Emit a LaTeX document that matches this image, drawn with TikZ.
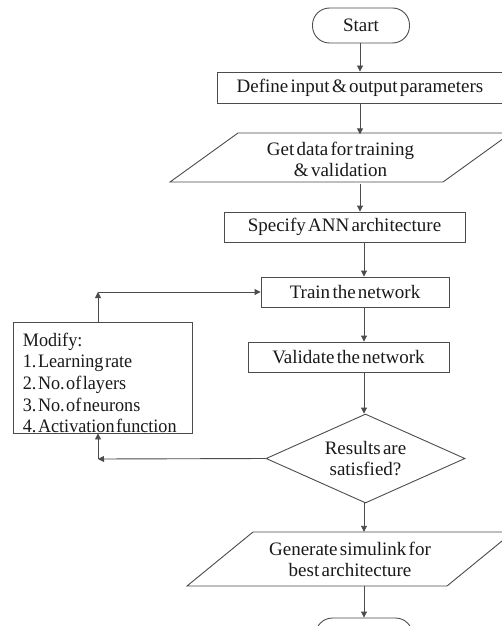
\documentclass[tikz,border=0pt]{standalone}
\usepackage{fontspec}
\setmainfont{Liberation Serif}
\newfontfamily\modfamily{Liberation Serif}[FakeStretch=0.955]
\usetikzlibrary{arrows.meta,shapes.geometric}
\newcommand{\mainfnt}{\fontsize{19}{21}\selectfont\spaceskip=0.12em\relax}
\newcommand{\modfnt}{\modfamily\fontsize{19}{21.7}\selectfont\spaceskip=0.08em\relax}
\begin{document}
\frenchspacing
\begin{tikzpicture}[x=1pt,y=-1pt,
  every node/.style={font=\mainfnt, text=black!90, inner sep=0pt},
  ln/.style={draw=black!70, line width=0.9pt},
  procbox/.style={ln, rectangle, align=center},
  termbox/.style={ln, rectangle, rounded corners=17pt, minimum width=97pt, minimum height=35pt},
  decbox/.style={ln, diamond, align=center, minimum width=199pt, minimum height=89pt, aspect=2.2},
  iobox/.style={rectangle, align=center},
  arr/.style={ln, -{Triangle[length=6pt,width=6pt]}},
]
\useasboundingbox (0,0) rectangle (502,626);
\clip (0,0) rectangle (502,626);
\fill[white] (0,0) rectangle (502,626);

\coordinate (xa) at (360,0);
\coordinate (xb) at (364,0);

% shapes
\node[termbox] (start) at (361,25.5) {Start};
\node[procbox, minimum width=286pt, minimum height=31pt] (def) at (360,87.5) {Define input \& output parameters};
\draw[ln] (170,182) -- (443,182) -- (511,133) -- (238,133) -- cycle;
\node[iobox, minimum width=273pt, minimum height=49pt] (data) at (340.5,159) {Get data for training\\\& validation};
\node[procbox, minimum width=241pt, minimum height=30pt] (spec) at (344.5,227) {Specify ANN architecture};
\node[procbox, minimum width=188pt, minimum height=30pt] (train) at (355,292) {Train the network};
\node[procbox, minimum width=201pt, minimum height=30pt] (valid) at (348.5,357) {Validate the network};
\node[decbox] (dec) at (365.5,458.5) {Results are\\satisfied?};
\draw[ln] (187,586) -- (447,586) -- (513,532) -- (253,532) -- cycle;
\node[iobox, minimum width=260pt, minimum height=54pt] (gen) at (350,559) {Generate simulink for\\best architecture};
\node[termbox] (stop) at (364,635.5) {};
\node[ln, rectangle, minimum width=179pt, minimum height=111pt] (mod) at (102.5,377.5) {};
\node[anchor=north west, align=left, font=\modfnt] (modtext) at (22.7,332.5)
  {Modify:\\1. Learning rate\\2. No. of layers\\3. No. of neurons\\4. Activation function};

% connectors
\draw[arr] (start.south -| xa) -- (def.north -| xa);
\draw[arr] (def.south -| xa) -- (data.north -| xa);
\draw[arr] (data.south -| xa) -- (spec.north -| xa);
\draw[arr] (spec.south -| xb) -- (train.north -| xb);
\draw[arr] (train.south -| xb) -- (valid.north -| xb);
\draw[arr] (valid.south -| xb) -- (dec.north -| xb);
\draw[arr] (dec.south -| xb) -- (gen.north -| xb);
\draw[arr] (gen.south -| xb) -- (stop.north -| xb);

\coordinate (c1) at (98,459);
\coordinate (c2) at (98,292);
\draw[arr] (dec.west) -- (c1);
\draw[arr] (c1) -- (mod.south -| c1);
\draw[arr] (mod.north -| c2) -- (c2);
\draw[arr] (c2) -- (train.west);
\end{tikzpicture}
\end{document}
